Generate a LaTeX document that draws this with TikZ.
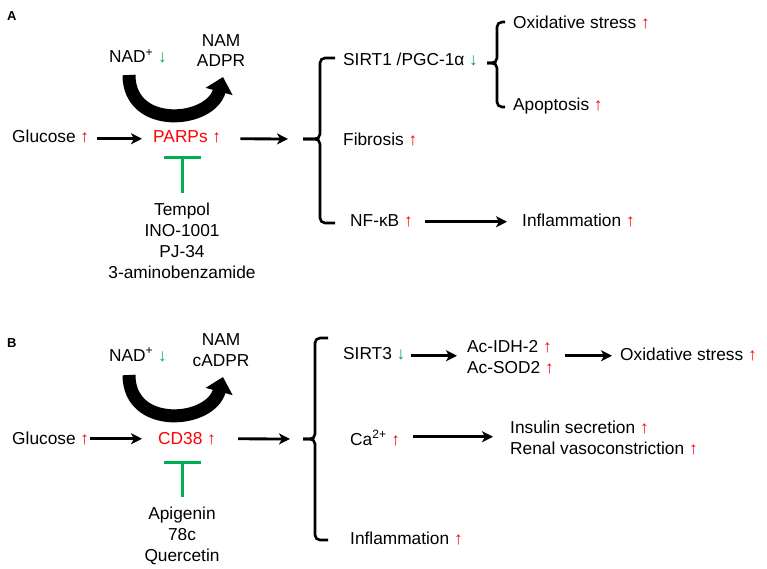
\documentclass[tikz,border=0pt]{standalone}
\usepackage{fontspec}
\setmainfont{Liberation Sans}
\usetikzlibrary{positioning,arrows.meta,calc}
\definecolor{upred}{RGB}{255,0,0}
\definecolor{dngreen}{RGB}{0,176,80}
\newcommand{\incr}{\textcolor{upred}{↑}}
\newcommand{\decr}{\textcolor{dngreen}{↓}}

\begin{document}
\begin{tikzpicture}[x=1pt, y=-1pt,
			every node/.style={font=\fontsize{17.3}{20.7}\selectfont, inner sep=0pt},
			txt/.style={anchor=base west, text height=12.5pt, text depth=0pt},
			lst/.style={anchor=base, align=center},
			lft/.style={anchor=base west, align=left},
			panel/.style={anchor=base west, font=\fontsize{13}{15}\selectfont\bfseries},
			arr/.style={line width=2.8pt, -{Stealth[length=11pt,width=11pt,inset=3pt]}},
			cycle/.style={line width=13pt, -{Triangle[length=15pt,width=27pt]}},
			brace/.style={line width=2.6pt, rounded corners=5pt},
			inhib/.style={draw=dngreen, line width=3pt, -{Bar[width=37pt]}}]
			\useasboundingbox[fill=white] (0,0) rectangle (767,569);
			% panel A
			\node[panel] (lblA) at (7,21) {A};
			\node[txt] (nadA) at (109,63) {NAD\textsuperscript{+} \decr};
			\node[lst] (namA) at (221,67) {NAM\\ADPR};
			\node[txt] (glcA) at (12,143) {Glucose \incr};
			\node[txt, text=upred] (parps) at (153,143) {PARPs ↑};
			\node[lst] (inhA) at (182,278) {Tempol\\INO-1001\\PJ-34\\3-aminobenzamide};
			\node[txt] (sirt1) at (343,66) {SIRT1 /PGC-1α \decr};
			\node[txt] (fib) at (343,146) {Fibrosis \incr};
			\node[txt] (nfkb) at (350,226) {NF-κB \incr};
			\node[txt] (inflA) at (522,226) {Inflammation \incr};
			\node[txt] (oxA) at (513,29) {Oxidative stress \incr};
			\node[txt] (apo) at (513,111) {Apoptosis \incr};
			\coordinate (brA) at (303,139);
			\coordinate (cycA) at (129,75);
			\coordinate (cycA2) at (223,77);
			\draw[cycle] (cycA) .. controls +(0,55) and +(-12.5,46.5) .. (cycA2);
			\draw[inhib, shorten <=10pt, shorten >=13pt] (inhA.north) -- (inhA.north |- parps.south);
			\draw[brace] (335,58) -- (320,58) -- (320,139) -- (brA);
			\draw[brace] (335,223) -- (320,223) -- (320,139) -- (brA);
			\draw[brace] (505,22) -- (497,22) -- (497,63) -- (487,63);
			\draw[brace] (505,107) -- (497,107) -- (497,63) -- (487,63);
			\begin{scope}[arr]
				\draw[shorten <=8pt, shorten >=11pt] ([yshift=-2pt]glcA.east) -- ([yshift=-2pt]parps.west);
				\draw[shorten <=19pt, shorten >=15pt] ([yshift=-2pt]parps.east) -- (brA);
				\draw[shorten <=12pt, shorten >=15pt] ([yshift=-2pt]nfkb.east) -- ([yshift=-2pt]inflA.west);
			\end{scope}
			% panel B
			\node[panel] (lblB) at (7,347) {B};
			\node[txt] (nadB) at (109,361) {NAD\textsuperscript{+} \decr};
			\node[lst] (namB) at (221,366) {NAM\\cADPR};
			\node[txt] (glcB) at (12,444) {Glucose \incr};
			\node[txt, text=upred] (cd38) at (158,444) {CD38 ↑};
			\node[lst] (inhB) at (182,561) {Apigenin\\78c\\Quercetin};
			\node[txt] (sirt3) at (343,359) {SIRT3 \decr};
			\node[lft] (acet) at (467,373) {Ac-IDH-2 \incr\\Ac-SOD2 \incr};
			\node[txt] (oxB) at (620,360) {Oxidative stress \incr};
			\node[txt] (ca) at (350,445) {Ca\textsuperscript{2+} \incr};
			\node[lft] (renal) at (510,454) {Insulin secretion \incr\\Renal vasoconstriction \incr};
			\node[txt] (inflB) at (350,544) {Inflammation \incr};
			\coordinate (brB) at (303,439);
			\coordinate (cycB) at (129,375);
			\coordinate (cycB2) at (223,377);
			\draw[cycle] (cycB) .. controls +(0,55) and +(-12.5,46.5) .. (cycB2);
			\draw[inhib, shorten <=10pt, shorten >=17pt] (inhB.north) -- (inhB.north |- cd38.south);
			\draw[brace] (328,338) -- (315,338) -- (315,439) -- (brB);
			\draw[brace] (328,540) -- (315,540) -- (315,439) -- (brB);
			\begin{scope}[arr]
				\draw[shorten <=1pt, shorten >=16pt] ([yshift=-1pt]glcB.east) -- ([yshift=-1pt]cd38.west);
				\draw[shorten <=22pt, shorten >=13pt] ([yshift=-1pt]cd38.east) -- (brB);
				\draw[shorten <=5pt, shorten >=10pt] ([yshift=-3pt]sirt3.east) -- ([yshift=-3pt]sirt3.east -| acet.west);
				\draw[shorten <=11pt, shorten >=8pt] ([yshift=-2pt]oxB.west -| acet.east) -- ([yshift=-2pt]oxB.west);
				\draw[shorten <=13pt, shorten >=17pt] ([yshift=2pt]ca.east) -- ([yshift=2pt]ca.east -| renal.west);
			\end{scope}
		\end{tikzpicture}
\end{document}
